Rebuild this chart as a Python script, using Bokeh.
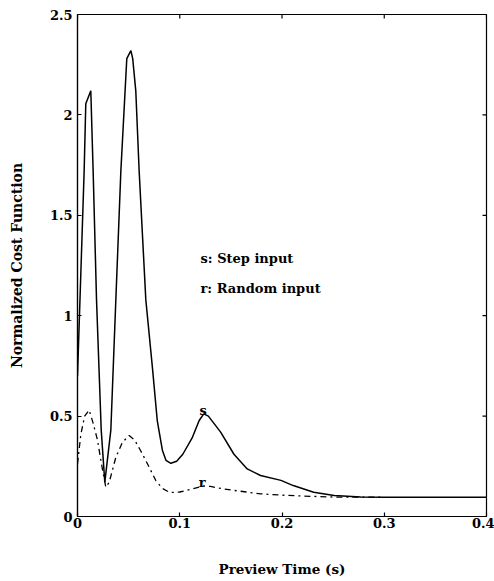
import math
from bokeh.plotting import figure
from bokeh.models import Range1d, FixedTicker, Label
from bokeh.embed import file_html
from bokeh.resources import INLINE

# ---- data ----
step_x = [0.0, 0.0065, 0.0081, 0.013, 0.0153, 0.0186, 0.0232, 0.0267, 0.0326, 0.0375,
          0.0424, 0.0482, 0.0522, 0.054, 0.057, 0.0603, 0.0668, 0.0733, 0.078, 0.083,
          0.0865, 0.0913, 0.097, 0.103, 0.112, 0.119, 0.1235, 0.128, 0.140, 0.153,
          0.166, 0.179, 0.199, 0.211, 0.231, 0.251, 0.277, 0.30, 0.35, 0.40]
step_y = [0.70, 1.72, 2.055, 2.12, 1.72, 1.08, 0.43, 0.17, 0.43, 1.08,
          1.72, 2.28, 2.32, 2.28, 2.12, 1.72, 1.08, 0.74, 0.478, 0.33,
          0.28, 0.265, 0.275, 0.31, 0.39, 0.478, 0.511, 0.50, 0.42, 0.31,
          0.237, 0.204, 0.18, 0.154, 0.121, 0.105, 0.097, 0.096, 0.096, 0.096]

rand_x = [0.0, 0.0033, 0.007, 0.0114, 0.015, 0.0196, 0.0235, 0.0277, 0.031, 0.0375,
          0.044, 0.0505, 0.056, 0.0615, 0.0668, 0.0766, 0.083, 0.0897, 0.093, 0.100,
          0.110, 0.1235, 0.130, 0.142, 0.153, 0.179, 0.205, 0.231, 0.257, 0.30]
rand_y = [0.262, 0.41, 0.50, 0.53, 0.47, 0.38, 0.26, 0.146, 0.17, 0.295,
          0.37, 0.403, 0.38, 0.33, 0.279, 0.179, 0.14, 0.121, 0.12, 0.122,
          0.135, 0.152, 0.15, 0.138, 0.13, 0.113, 0.105, 0.10, 0.096, 0.096]

x_min, x_max = 0.0, 0.4
y_min, y_max = 0.0, 2.5
x_ticks = [0, 0.1, 0.2, 0.3, 0.4]
x_tick_labels = ["0", "0.1", "0.2", "0.3", "0.4"]
y_ticks = [0, 0.5, 1, 1.5, 2, 2.5]
y_tick_labels = ["0", "0.5", "1", "1.5", "2", "2.5"]

curve_tags = ["s", "r"]
curve_tag_x = [0.123, 0.122]
curve_tag_y = [0.53, 0.17]

legend_lines = ["s: Step input", "r: Random input"]
legend_x = [0.1203, 0.1203]
legend_y = [1.285, 1.135]

FONT = "DejaVu Serif"

p = figure(width=494, height=581, output_backend="svg", toolbar_location=None,
           x_range=Range1d(x_min, x_max), y_range=Range1d(y_min, y_max),
           min_border_left=77, min_border_right=8, min_border_top=14, min_border_bottom=65,
           x_axis_label="Preview Time (s)", y_axis_label="Normalized Cost Function")
p.grid.visible = False
p.outline_line_color = "black"
p.outline_line_width = 1.2
p.background_fill_color = "white"
p.border_fill_color = "white"

p.xaxis.ticker = FixedTicker(ticks=x_ticks)
p.yaxis.ticker = FixedTicker(ticks=y_ticks)
p.xaxis.major_label_overrides = dict(zip(x_ticks, x_tick_labels))
p.yaxis.major_label_overrides = dict(zip(y_ticks, y_tick_labels))

for ax in (p.xaxis[0], p.yaxis[0]):
    ax.major_tick_in = 4
    ax.major_tick_out = 0
    ax.minor_tick_in = 0
    ax.minor_tick_out = 0
    ax.axis_line_width = 1.2
    ax.major_tick_line_width = 1.2
    ax.major_label_text_font = FONT
    ax.major_label_text_font_style = "bold"
    ax.major_label_text_font_size = "13px"
    ax.major_label_text_color = "black"
    ax.axis_label_text_font = FONT
    ax.axis_label_text_font_style = "bold"
    ax.axis_label_text_color = "black"

p.xaxis.axis_label_text_font_size = "13.5px"
p.yaxis.axis_label_text_font_size = "14px"
p.xaxis.major_label_standoff = 1
p.xaxis.axis_label_standoff = 30
p.yaxis.major_label_standoff = 5
p.yaxis.axis_label_standoff = 22

# mirrored inward ticks on the right and top edges of the frame
p.ray(x=[x_max] * len(y_ticks), y=y_ticks, length=4, length_units="screen",
      angle=math.pi, line_color="black", line_width=1.2)
p.ray(x=x_ticks, y=[y_max] * len(x_ticks), length=4, length_units="screen",
      angle=-math.pi / 2, line_color="black", line_width=1.2)

p.line(step_x, step_y, line_color="black", line_width=1.5)
p.line(rand_x, rand_y, line_color="black", line_width=1.3, line_dash="dashdot")

for t, x, y in zip(curve_tags, curve_tag_x, curve_tag_y):
    p.add_layout(Label(x=x, y=y, text=t, text_font=FONT, text_font_style="bold",
                       text_font_size="13px", text_align="center", text_baseline="middle",
                       text_color="black"))

for t, x, y in zip(legend_lines, legend_x, legend_y):
    p.add_layout(Label(x=x, y=y, text=t, text_font=FONT, text_font_style="bold",
                       text_font_size="13px", text_align="left", text_baseline="middle",
                       text_color="black"))

open("out.html", "w").write(file_html(p, INLINE))
